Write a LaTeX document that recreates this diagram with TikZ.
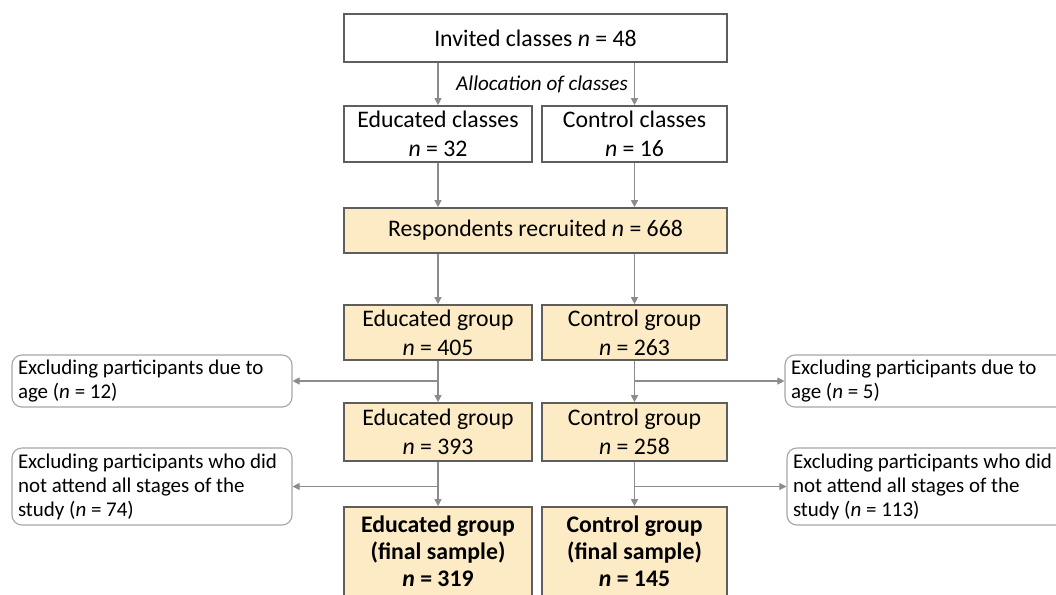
\documentclass[tikz,border=0pt]{standalone}
\usepackage{fontspec}
\setmainfont{Carlito}
\usetikzlibrary{arrows.meta}
\newcommand{\nn}{\textit{n}}
\newcommand{\pxu}{0.025cm}
\definecolor{boxfill}{HTML}{FDEBC5}
\definecolor{boxline}{HTML}{5E5E5E}
\definecolor{arrline}{HTML}{8C8C8C}
\definecolor{sideline}{HTML}{A6A6A6}

\tikzset{
    mainbox/.style={draw=boxline, line width=1.2pt, inner sep=0pt, align=flush center,
        font=\fontsize{16.9}{20.6}\selectfont},
    filledbox/.style={mainbox, fill=boxfill},
    finalbox/.style={filledbox, font=\fontsize{16.9}{19.3}\selectfont\bfseries},
    sidebox/.style={draw=sideline, line width=0.8pt, rounded corners=7pt,
        inner xsep=6*\pxu, inner ysep=0pt, align=flush left,
        font=\fontsize{14.9}{17}\selectfont},
    arr/.style={draw=arrline, line width=0.8pt, -{Triangle[length=5pt,width=5pt]}}
}

\begin{document}
\begin{tikzpicture}[x=0.025cm, y=-0.025cm]
    \path[use as bounding box, fill=white] (0, 0) rectangle (1056, 594);
    \clip (0, 0) rectangle (1056, 594);

    % top part
    \node[mainbox, minimum width=383*\pxu, minimum height=48*\pxu] (inv) at (535.5, 38) {Invited classes \nn{} = 48};
    \node[font=\fontsize{15}{18}\selectfont\itshape] (alloc) at (542, 84) {Allocation of classes};
    \node[mainbox, minimum width=188*\pxu, minimum height=56*\pxu] (educls) at (438, 134) {Educated classes\\ \nn{} = 32};
    \node[mainbox, minimum width=185*\pxu, minimum height=56*\pxu] (ctrcls) at (634.5, 134) {Control classes\\ \nn{} = 16};
    \node[filledbox, minimum width=383*\pxu, minimum height=45*\pxu] (resp) at (535.5, 230.5) {Respondents recruited \nn{} = 668};

    % groups
    \node[filledbox, minimum width=188*\pxu, minimum height=55*\pxu] (edu1) at (438, 332.5) {Educated group\\ \nn{} = 405};
    \node[filledbox, minimum width=185*\pxu, minimum height=55*\pxu] (ctr1) at (634.5, 332.5) {Control group\\ \nn{} = 263};
    \node[filledbox, minimum width=188*\pxu, minimum height=58*\pxu] (edu2) at (438, 432) {Educated group\\ \nn{} = 393};
    \node[filledbox, minimum width=185*\pxu, minimum height=58*\pxu] (ctr2) at (634.5, 432) {Control group\\ \nn{} = 258};
    \node[finalbox, minimum width=188*\pxu, minimum height=89*\pxu] (edu3) at (438, 551.5) {Educated group\\ (final sample)\\ \nn{} = 319};
    \node[finalbox, minimum width=185*\pxu, minimum height=89*\pxu] (ctr3) at (634.5, 551.5) {Control group\\ (final sample)\\ \nn{} = 145};

    % exclusions
    \node[sidebox, text width=268*\pxu, minimum height=52*\pxu] (exl1) at (152, 381) {Excluding participants due to\\ age (\nn{} = 12)};
    \node[sidebox, text width=268*\pxu, minimum height=77*\pxu] (exl2) at (152, 486.5) {Excluding participants who did\\ not attend all stages of the\\ study (\nn{} = 74)};
    \node[sidebox, text width=273*\pxu, minimum height=52*\pxu] (exr1) at (927.5, 381) {Excluding participants due to\\ age (\nn{} = 5)};
    \node[sidebox, text width=273*\pxu, minimum height=77*\pxu] (exr2) at (929.5, 486.5) {Excluding participants who did\\ not attend all stages of the\\ study (\nn{} = 113)};

    % connectors
    \draw[arr] (inv.south -| educls) -- (educls);
    \draw[arr] (inv.south -| ctrcls) -- (ctrcls);
    \draw[arr] (educls) -- (resp.north -| educls);
    \draw[arr] (ctrcls) -- (resp.north -| ctrcls);
    \draw[arr] (resp.south -| edu1) -- (edu1);
    \draw[arr] (resp.south -| ctr1) -- (ctr1);
    \draw[arr] (edu1) -- (edu2);
    \draw[arr] (ctr1) -- (ctr2);
    \draw[arr] (edu2) -- (edu3);
    \draw[arr] (ctr2) -- (ctr3);
    \draw[arr] (exl1.east -| edu1) -- (exl1);
    \draw[arr] (exl2.east -| edu2) -- (exl2);
    \draw[arr] (exr1.west -| ctr1) -- (exr1);
    \draw[arr] (exr2.west -| ctr2) -- (exr2);
\end{tikzpicture}
\end{document}
